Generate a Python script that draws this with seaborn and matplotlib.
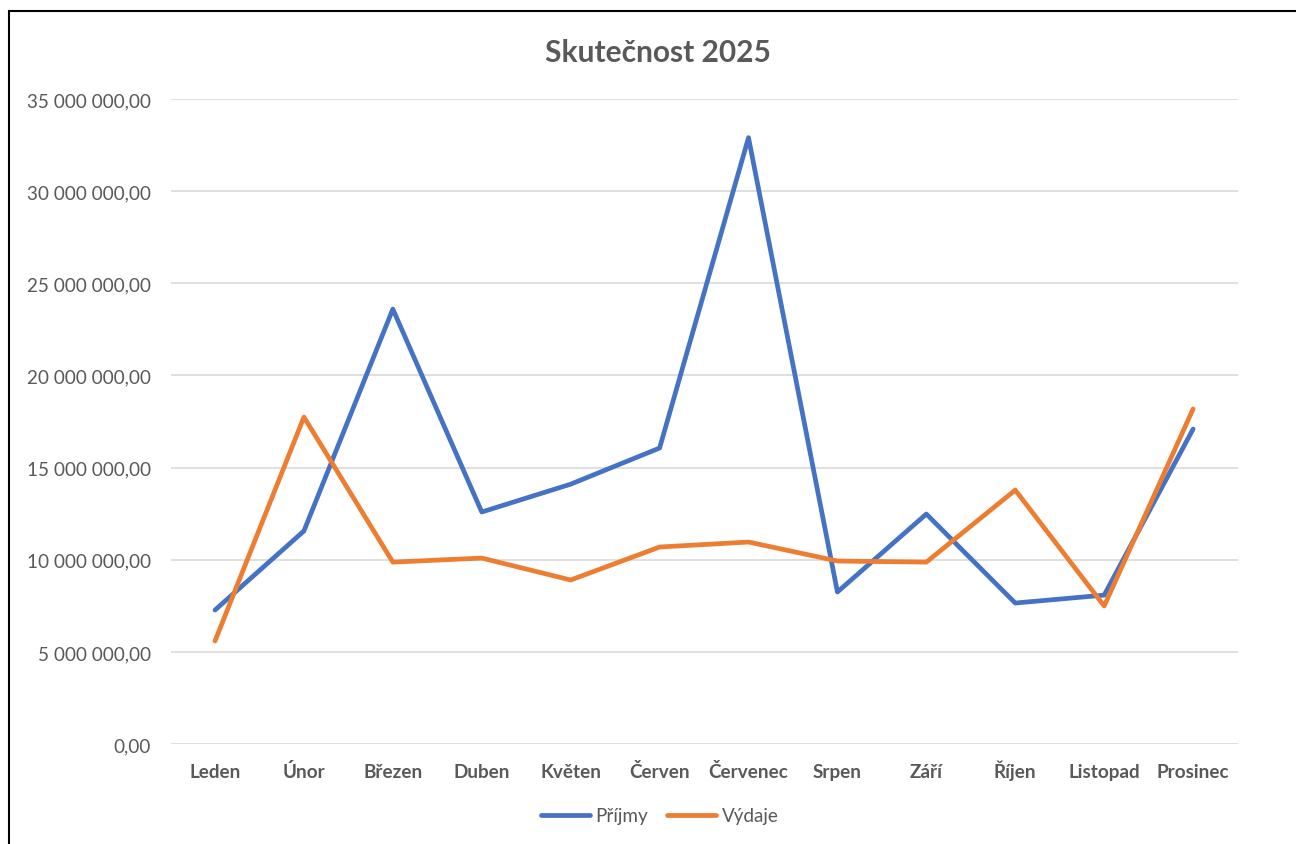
import pandas as pd
import seaborn as sns
import matplotlib.pyplot as plt
from matplotlib.ticker import FuncFormatter
from matplotlib.patches import Rectangle

# === data ===
mesice = ["Leden", "Únor", "Březen", "Duben", "Květen", "Červen",
          "Červenec", "Srpen", "Září", "Říjen", "Listopad", "Prosinec"]
prijmy = [7.27e6, 11.56e6, 23.6e6, 12.59e6, 14.1e6, 16.06e6,
          32.9e6, 8.25e6, 12.48e6, 7.65e6, 8.08e6, 17.09e6]
vydaje = [5.59e6, 17.74e6, 9.87e6, 10.09e6, 8.9e6, 10.69e6,
          10.96e6, 9.93e6, 9.87e6, 13.78e6, 7.49e6, 18.18e6]
y_ticks = [0, 5e6, 10e6, 15e6, 20e6, 25e6, 30e6, 35e6]

df = pd.DataFrame({"Měsíc": mesice * 2,
                   "Částka": prijmy + vydaje,
                   "Řada": ["Příjmy"] * 12 + ["Výdaje"] * 12})

sns.set_style("white")
plt.rcParams["font.family"] = ["Lato", "DejaVu Sans"]
grey = "#595959"

fig = plt.figure(figsize=(12.96, 8.45), dpi=100)
ax = fig.add_axes([0.1316, 0.1183, 0.8233, 0.7634])

sns.lineplot(data=df, x="Měsíc", y="Částka", hue="Řada", sort=False,
             palette={"Příjmy": "#4472C4", "Výdaje": "#ED7D31"},
             linewidth=3.4, ax=ax, legend=True)
for ln in ax.lines:
    ln.set_solid_capstyle("round")
    ln.set_solid_joinstyle("round")

ax.set_xlim(-0.5, 11.5)
ax.set_ylim(0, 35e6)
ax.set_yticks(y_ticks)
ax.yaxis.set_major_formatter(FuncFormatter(
    lambda v, p: f"{v:,.2f}".replace(",", " ").replace(".", ",")))
ax.grid(axis="y", color="#D9D9D9", linewidth=1.2)
ax.set_axisbelow(True)
for s in ax.spines.values():
    s.set_visible(False)
ax.tick_params(axis="y", length=0, pad=14, labelsize=13.6, labelcolor=grey)
ax.tick_params(axis="x", length=0, pad=24, labelsize=13.6, labelcolor=grey)
for t in ax.get_xticklabels():
    t.set_fontweight("bold")
    t.set_verticalalignment("baseline")
ax.set_xlabel("")
ax.set_ylabel("")

fig.text(658 / 1296, 1 - 53 / 845, "Skutečnost 2025", ha="center", va="center",
         fontsize=21.5, fontweight="bold", color=grey)

leg = ax.legend(loc="center", bbox_to_anchor=(660 / 1296, 1 - 817 / 845),
                bbox_transform=fig.transFigure, ncol=2, frameon=False,
                fontsize=13.6, handlelength=2.6, columnspacing=1.0,
                handletextpad=0.3)
for t in leg.get_texts():
    t.set_color(grey)

# border of the chart area
fig.patches.append(Rectangle((9 / 1296, -0.1), 1.2, 1 - 12 / 845 + 0.1,
                             transform=fig.transFigure, fill=False,
                             edgecolor="black", linewidth=1.5))

fig.savefig("out.png", dpi=100)
